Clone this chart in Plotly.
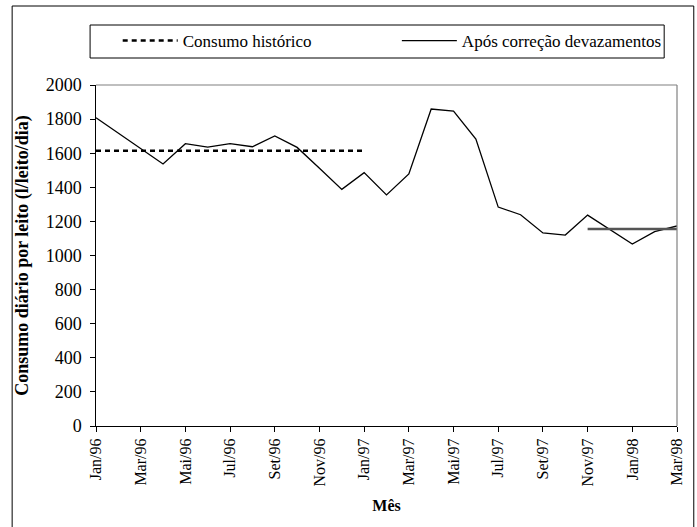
import plotly.graph_objects as go

months = ["Jan/96", "Fev/96", "Mar/96", "Abr/96", "Mai/96", "Jun/96", "Jul/96", "Ago/96",
          "Set/96", "Out/96", "Nov/96", "Dez/96", "Jan/97", "Fev/97", "Mar/97", "Abr/97",
          "Mai/97", "Jun/97", "Jul/97", "Ago/97", "Set/97", "Out/97", "Nov/97", "Dez/97",
          "Jan/98", "Fev/98", "Mar/98"]
apos_correcao = [1808, 1718, 1627, 1537, 1656, 1636, 1656, 1638, 1701, 1634, 1512, 1388,
                 1486, 1355, 1478, 1859, 1847, 1683, 1284, 1239, 1132, 1120, 1237, 1152,
                 1067, 1140, 1173]
historico_months = months[0:13]
historico = [1615] * 13
meta_months = months[22:27]
meta = [1155] * 5
tick_labels = months[::2]

FONT = "Liberation Serif"

fig = go.Figure()
fig.add_trace(go.Scatter(x=historico_months, y=historico, mode="lines",
                         name="Consumo histórico", legend="legend",
                         line=dict(color="black", width=2.5, dash="5px,4px")))
fig.add_trace(go.Scatter(x=months, y=apos_correcao, mode="lines",
                         name="Após correção devazamentos", legend="legend2",
                         line=dict(color="black", width=1.3)))
fig.add_trace(go.Scatter(x=meta_months, y=meta, mode="lines", showlegend=False,
                         line=dict(color="#555555", width=2.5)))

W, H = 697, 527
L, R, T, B = 96, 12, 85, 101
pw, ph = W - L - R, H - T - B


def px(x):
    return (x - L) / pw


def py(y):
    return (H - B - y) / ph


shapes = [
    dict(type="rect", xref="paper", yref="paper", x0=px(11), x1=px(702), y0=py(532), y1=py(6),
         line=dict(color="black", width=1)),
    dict(type="rect", xref="paper", yref="paper", x0=px(90), x1=px(672), y0=py(58), y1=py(25),
         line=dict(color="black", width=1)),
    dict(type="line", xref="paper", yref="paper", x0=0, x1=1, y0=1, y1=1,
         line=dict(color="#808080", width=1.2)),
    dict(type="line", xref="paper", yref="paper", x0=1, x1=1, y0=0, y1=1,
         line=dict(color="#808080", width=1.2)),
]

leg_common = dict(orientation="h", yanchor="middle", xanchor="left",
                  font=dict(family=FONT, size=17), bgcolor="rgba(0,0,0,0)",
                  borderwidth=0, itemwidth=55)

fig.update_layout(
    width=W, height=H,
    margin=dict(l=L, r=R, t=T, b=B),
    paper_bgcolor="white", plot_bgcolor="white",
    font=dict(family=FONT, size=16, color="black"),
    shapes=shapes,
    showlegend=True,
    legend=dict(x=px(118), y=py(41), **leg_common),
    legend2=dict(x=px(401), y=py(41), **leg_common),
    xaxis=dict(type="category", range=[0, 26], tickmode="array", tickvals=tick_labels,
               ticktext=tick_labels, tickangle=-90, ticks="outside", ticklen=5,
               tickcolor="black", showline=True, linecolor="black", linewidth=1.2,
               showgrid=False, zeroline=False, tickfont=dict(family=FONT, size=16),
               title=dict(text="<b>Mês</b>", font=dict(family=FONT, size=16), standoff=14)),
    yaxis=dict(range=[0, 2000], dtick=200, ticks="outside", ticklen=5, tickcolor="black",
               showline=True, linecolor="black", linewidth=1.2, showgrid=False,
               zeroline=False, tickfont=dict(family=FONT, size=18), ticksuffix="\u00a0",
               title=dict(text="<b>Consumo diário por leito (l/leito/dia)</b>",
                          font=dict(family=FONT, size=18), standoff=12)),
)

fig.write_html("out.html", config={"displayModeBar": False},
               post_script="document.body.style.margin='0px';")
